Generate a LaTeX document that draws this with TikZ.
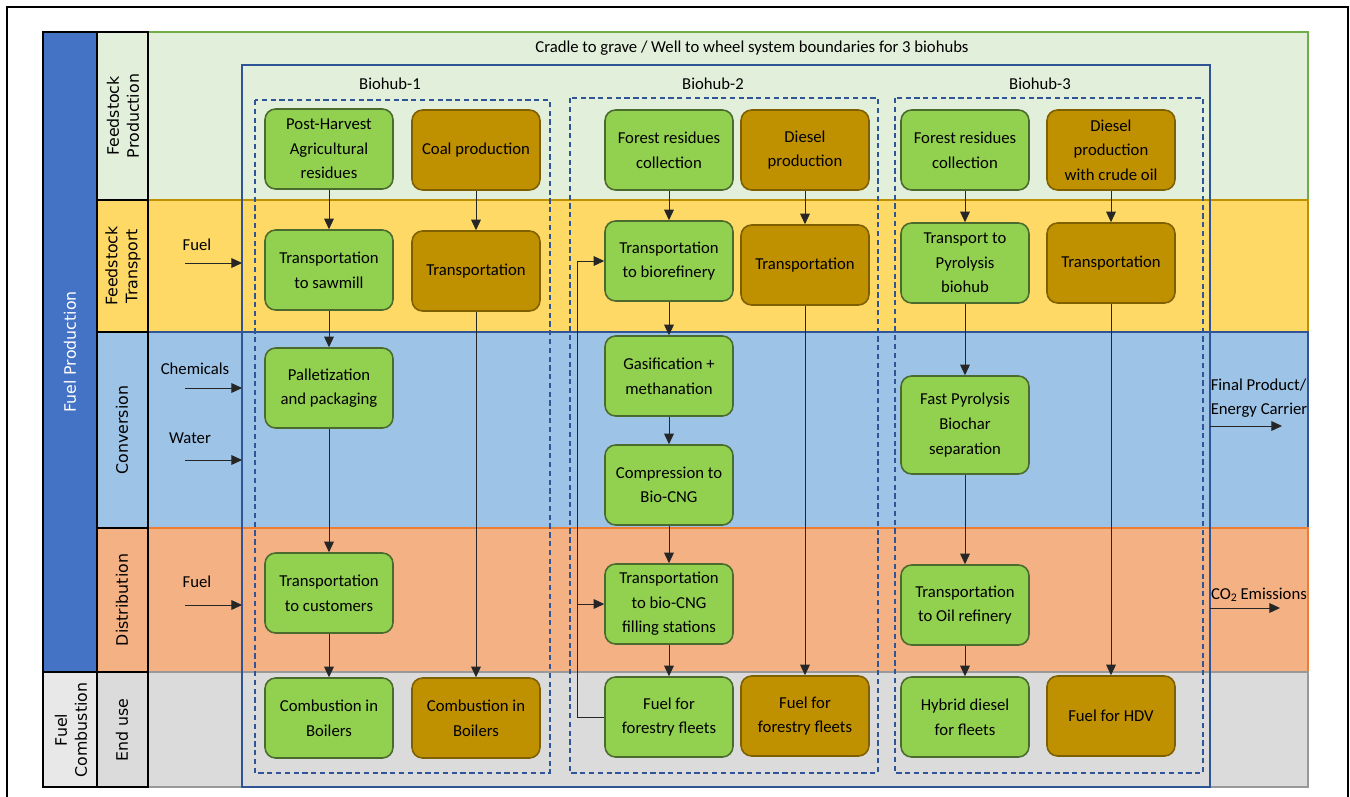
\documentclass[tikz,border=0pt]{standalone}
\usepackage{fontspec}
\setmainfont{Carlito}
\newfontfamily\stagefont{DejaVu Sans}
\usetikzlibrary{arrows.meta}

\definecolor{bandgreen}{HTML}{E2EFDA}
\definecolor{bandgreenline}{HTML}{70AD47}
\definecolor{bandyellow}{HTML}{FFD966}
\definecolor{bandyellowline}{HTML}{BF9000}
\definecolor{bandblue}{HTML}{9DC3E6}
\definecolor{bandorange}{HTML}{F4B183}
\definecolor{bandorangeline}{HTML}{ED7D31}
\definecolor{bandgray}{HTML}{DBDBDB}
\definecolor{celllightgray}{HTML}{E8E8E8}
\definecolor{hubblue}{HTML}{2F5597}
\definecolor{prodblue}{HTML}{4472C4}
\definecolor{biogreen}{HTML}{92D050}
\definecolor{biogreenline}{HTML}{4B6B2E}
\definecolor{fossil}{HTML}{BF9000}
\definecolor{fossilline}{HTML}{7F6000}

\newcommand{\boxfont}{\fontsize{9.5}{14}\selectfont}
\newcommand{\labelfont}{\stagefont\fontsize{9}{11.5}\selectfont}

\tikzset{
  bio/.style={draw=biogreenline, fill=biogreen, line width=0.9pt,
              rounded corners=6pt, minimum width=2.56cm, minimum height=1.6cm,
              align=center, font=\boxfont, inner sep=2pt},
  fossilbox/.style={bio, draw=fossilline, fill=fossil},
  flow/.style={-{Triangle[length=6pt,width=5.5pt]}, draw=black!85, line width=0.5pt},
  stagecell/.style={draw=black, line width=1.3pt},
  stagetext/.style={rotate=90, align=center, font=\labelfont},
  sidetext/.style={font=\boxfont, align=left},
  hubbox/.style={draw=hubblue, dashed, dash pattern=on 3pt off 2pt, line width=0.6pt},
}

\begin{document}
\begin{tikzpicture}[x=0.02cm, y=-0.02cm]
\useasboundingbox (0,0) rectangle (1350,796);
\fill[white] (0,0) rectangle (1350,796);
% outer frame
\draw[line width=1.2pt] (7,800) -- (7,7) -- (1348,7) -- (1348,800);

% stage bands
\draw[fill=bandgreen, draw=bandgreenline, line width=1pt] (148,32) rectangle (1308,200);
\draw[fill=bandyellow, draw=bandyellowline, line width=1pt] (148,200) rectangle (1308,332);
\draw[fill=bandblue, draw=hubblue, line width=1pt] (148,332) rectangle (1308,528);
\draw[fill=bandorange, draw=bandorangeline, line width=1pt] (148,528) rectangle (1308,672);
\draw[fill=bandgray, draw=black!40, line width=1pt] (148,672) rectangle (1308,787);

% label columns
\draw[stagecell, fill=prodblue] (43,32) rectangle (97,672);
\draw[stagecell, fill=celllightgray] (43,672) rectangle (97,787);
\draw[stagecell, fill=bandgreen] (97,32) rectangle (148,200);
\draw[stagecell, fill=bandyellow] (97,200) rectangle (148,332);
\draw[stagecell, fill=bandblue] (97,332) rectangle (148,528);
\draw[stagecell, fill=bandorange] (97,528) rectangle (148,672);
\draw[stagecell, fill=bandgray] (97,672) rectangle (148,787);

\node[stagetext, text=white] (fuelprod) at (70,352) {Fuel Production};
\node[stagetext] (fuelcomb) at (71,730) {Fuel\\Combustion};
\node[stagetext] (lblfp) at (123,116) {Feedstock\\Production};
\node[stagetext] (lblft) at (123,266) {Feedstock\\Transport};
\node[stagetext] (lblconv) at (122,430) {Conversion};
\node[stagetext] (lbldist) at (122,600) {Distribution};
\node[stagetext] (lblend) at (122,730) {End use};

% system boundaries
\node[font=\boxfont] (title) at (752,48) {Cradle to grave / Well to wheel system boundaries for 3 biohubs};
\draw[hubblue, line width=0.8pt] (242,65) rectangle (1210,787);
\draw[hubbox] (255,100) rectangle (550,773);
\draw[hubbox] (570,98) rectangle (878,773);
\draw[hubbox] (895,98) rectangle (1203,773);
\node[font=\boxfont] (hub1) at (390,84) {Biohub-1};
\node[font=\boxfont] (hub2) at (713,84) {Biohub-2};
\node[font=\boxfont] (hub3) at (1040,84) {Biohub-3};

% Biohub-1
\node[bio] (agres) at (329,149) {Post-Harvest\\Agricultural\\residues};
\node[fossilbox] (coal) at (476,150) {Coal production};
\node[bio] (sawmill) at (329,270) {Transportation\\to sawmill};
\node[fossilbox] (coaltr) at (476,271) {Transportation};
\node[bio] (pallet) at (329,388) {Palletization\\and packaging};
\node[bio] (cust) at (329,593) {Transportation\\to customers};
\node[bio] (boilbio) at (329,718) {Combustion in\\Boilers};
\node[fossilbox] (boilcoal) at (476,718) {Combustion in\\Boilers};

% Biohub-2
\node[bio] (forres) at (669,150) {Forest residues\\collection};
\node[fossilbox] (diesel) at (805,150) {Diesel\\production};
\node[bio] (bioref) at (669,261) {Transportation\\to biorefinery};
\node[fossilbox] (dieseltr) at (805,265) {Transportation};
\node[bio] (gasif) at (669,376) {Gasification +\\methanation};
\node[bio] (compr) at (669,485) {Compression to\\Bio-CNG};
\node[bio] (cngst) at (669,604) {Transportation\\to bio-CNG\\filling stations};
\node[bio] (fleetbio) at (669,717) {Fuel for\\forestry fleets};
\node[fossilbox] (fleetdsl) at (805,716) {Fuel for\\forestry fleets};

% Biohub-3
\node[bio] (forres3) at (965,150) {Forest residues\\collection};
\node[fossilbox] (crude) at (1111,150) {Diesel\\production\\with crude oil};
\node[bio] (pyrtr) at (965,263) {Transport to\\Pyrolysis\\biohub};
\node[fossilbox] (crudetr) at (1111,263) {Transportation};
\node[bio, minimum height=1.96cm] (pyro) at (965,425) {Fast Pyrolysis\\Biochar\\separation};
\node[bio] (oilref) at (965,605) {Transportation\\to Oil refinery};
\node[bio] (hybrid) at (965,717) {Hybrid diesel\\for fleets};
\node[fossilbox] (hdv) at (1111,716) {Fuel for HDV};

% flows
\draw[flow] (agres) -- (sawmill);
\draw[flow] (sawmill) -- (pallet);
\draw[flow] (pallet) -- (cust);
\draw[flow] (cust) -- (boilbio);
\draw[flow] (coal) -- (coaltr);
\draw[flow] (coaltr) -- (boilcoal);

\draw[flow] (forres) -- (bioref);
\draw[flow] (bioref) -- (gasif);
\draw[flow] (gasif) -- (compr);
\draw[flow] (compr) -- (cngst);
\draw[flow] (cngst) -- (fleetbio);
\draw[flow] (diesel) -- (dieseltr);
\draw[flow] (dieseltr) -- (fleetdsl);
\coordinate (loop) at (577,717);
\draw[draw=black!85, line width=0.5pt] (fleetbio.west) -- (loop);
\draw[flow] (loop) |- (bioref.west);
\draw[flow] (loop) |- (cngst.west);

\draw[flow] (forres3) -- (pyrtr);
\draw[flow] (pyrtr) -- (pyro);
\draw[flow] (pyro) -- (oilref);
\draw[flow] (oilref) -- (hybrid);
\draw[flow] (crude) -- (crudetr);
\draw[flow] (crudetr) -- (hdv);

% inputs and outputs
\node[sidetext] (fuelA) at (197,245) {Fuel};
\node[sidetext] (chem) at (195,369) {Chemicals};
\node[sidetext] (water) at (190,438) {Water};
\node[sidetext] (fuelB) at (197,582) {Fuel};
\coordinate (fuelAs) at (185,263); \coordinate (fuelAe) at (242,263);
\coordinate (chems) at (185,388); \coordinate (ineC) at (242,388);
\coordinate (waters) at (185,460); \coordinate (ineW) at (242,460);
\coordinate (fuelBs) at (185,605); \coordinate (fuelBe) at (242,605);
\draw[flow] (fuelAs) -- (fuelAe);
\draw[flow] (chems) -- (ineC);
\draw[flow] (waters) -- (ineW);
\draw[flow] (fuelBs) -- (fuelBe);

\node[sidetext] (product) at (1259,398) {Final Product/\\Energy Carrier};
\node[sidetext, inner sep=1pt] (co2) at (1259,595) {CO\textsubscript{2}\,Emissions};
\coordinate (prods) at (1210,426); \coordinate (prode) at (1282,426);
\coordinate (co2s) at (1210,608); \coordinate (co2e) at (1280,608);
\draw[flow] (prods) -- (prode);
\draw[flow] (co2s) -- (co2e);
\end{tikzpicture}
\end{document}
